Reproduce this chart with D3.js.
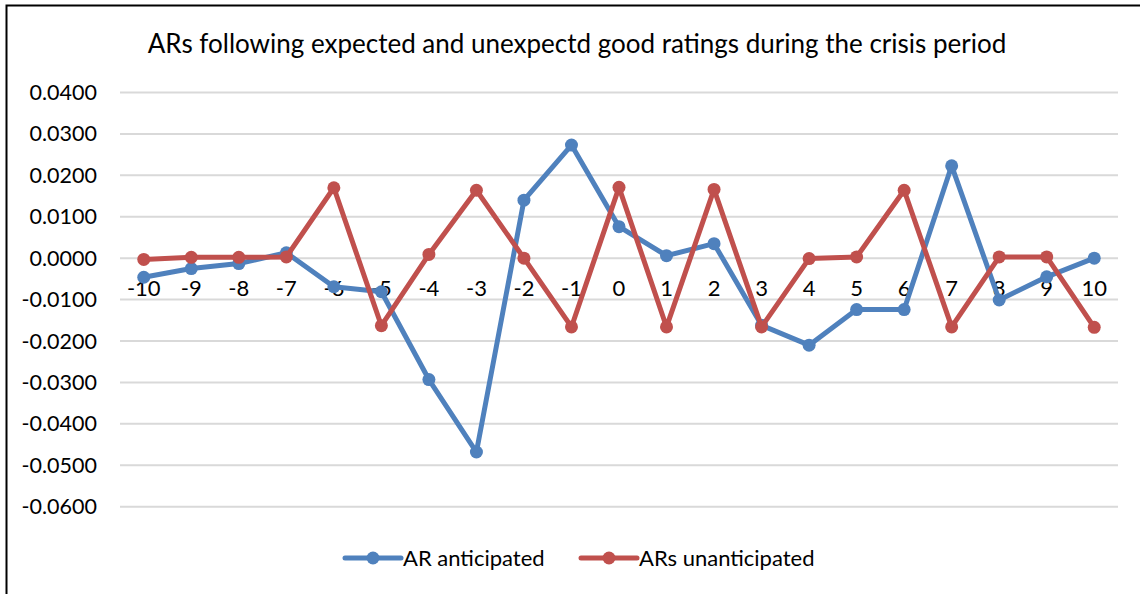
<!DOCTYPE html>
<html>
<head>
<meta charset="utf-8">
<title>ARs following expected and unexpectd good ratings</title>
<style>
    body {
        margin: 0;
        background: white;
    }
    svg {
        display: block;
        font-family: Lato, "Open Sans", sans-serif;
    }
    .grid line {
        stroke: #d9d9d9;
        stroke-width: 2px;
    }
    .tick-label {
        font-size: 21.5px;
        fill: #000;
    }
    .title {
        font-size: 26px;
        fill: #000;
    }
    .legend text {
        font-size: 22px;
        fill: #000;
    }
</style>
</head>
<body>
<svg id="chart" width="1140" height="594"></svg>
<script src="https://d3js.org/d3.v7.min.js"></script>
<script>
    // event days around the rating announcement
    var days = ["-10", "-9", "-8", "-7", "-6", "-5", "-4", "-3", "-2", "-1", "0",
                "1", "2", "3", "4", "5", "6", "7", "8", "9", "10"];

    var arAnticipated = [-0.0046, -0.0025, -0.0013, 0.0013, -0.0069, -0.0081, -0.0293, -0.0468,
                         0.0140, 0.0273, 0.0076, 0.0006, 0.0035, -0.0162, -0.0210, -0.0124,
                         -0.0124, 0.0223, -0.0101, -0.0045, 0.0000];

    var arUnanticipated = [-0.0003, 0.0002, 0.0002, 0.0003, 0.0170, -0.0163, 0.0009, 0.0164,
                           0.0000, -0.0166, 0.0171, -0.0166, 0.0166, -0.0166, -0.0001, 0.0003,
                           0.0164, -0.0166, 0.0003, 0.0003, -0.0167];

    var yTicks = [0.04, 0.03, 0.02, 0.01, 0, -0.01, -0.02, -0.03, -0.04, -0.05, -0.06];

    var seriesNames = ["AR anticipated", "ARs unanticipated"];
    var seriesColors = ["#4f81bd", "#c0504d"];

    var svg = d3.select("#chart");

    // chart frame (right/bottom edges fall outside the picture)
    svg.append("rect")
        .attr("x", 6.5)
        .attr("y", 5.5)
        .attr("width", 1160)
        .attr("height", 620)
        .attr("fill", "white")
        .attr("stroke", "#000")
        .attr("stroke-width", 2);

    var x = d3.scalePoint()
        .domain(days)
        .range([120, 1118])
        .padding(0.5);

    var y = d3.scaleLinear()
        .domain([-0.06, 0.04])
        .range([506.7, 92.5]);

    // excel style: plain hyphen for negatives
    var fmt = function(d) { return d3.format(".4f")(d).replace("\u2212", "-"); };

    svg.append("text")
        .attr("class", "title")
        .attr("x", 577)
        .attr("y", 53)
        .attr("text-anchor", "middle")
        .text("ARs following expected and unexpectd good ratings during the crisis period");

    // horizontal gridlines
    svg.append("g")
        .attr("class", "grid")
        .selectAll("line")
        .data(yTicks)
        .enter().append("line")
        .attr("x1", 120)
        .attr("x2", 1118)
        .attr("y1", function(d) { return y(d); })
        .attr("y2", function(d) { return y(d); });

    // y axis labels
    svg.append("g")
        .selectAll("text")
        .data(yTicks)
        .enter().append("text")
        .attr("class", "tick-label")
        .attr("x", 97)
        .attr("y", function(d) { return y(d); })
        .attr("dy", "0.35em")
        .attr("text-anchor", "end")
        .text(fmt);

    // category labels sit just below the zero line
    svg.append("g")
        .selectAll("text")
        .data(days)
        .enter().append("text")
        .attr("class", "tick-label")
        .attr("x", function(d) { return x(d); })
        .attr("y", y(0) + 38)
        .attr("text-anchor", "middle")
        .style("font-size", "22px")
        .text(function(d) { return d; });

    var line = d3.line()
        .x(function(d, i) { return x(days[i]); })
        .y(function(d) { return y(d); });

    [arAnticipated, arUnanticipated].forEach(function(values, k) {
        var g = svg.append("g");
        g.append("path")
            .datum(values)
            .attr("d", line)
            .attr("fill", "none")
            .attr("stroke", seriesColors[k])
            .attr("stroke-width", 5)
            .attr("stroke-linejoin", "round")
            .attr("stroke-linecap", "round");
        g.selectAll("circle")
            .data(values)
            .enter().append("circle")
            .attr("cx", function(d, i) { return x(days[i]); })
            .attr("cy", function(d) { return y(d); })
            .attr("r", 6.5)
            .attr("fill", seriesColors[k]);
    });

    // legend
    var legendX = [345, 581];
    var legend = svg.append("g")
        .attr("class", "legend")
        .selectAll("g")
        .data(seriesNames)
        .enter().append("g")
        .attr("transform", function(d, i) { return "translate(" + legendX[i] + ",558)"; });

    legend.append("line")
        .attr("x1", 0)
        .attr("x2", 56)
        .attr("stroke", function(d, i) { return seriesColors[i]; })
        .attr("stroke-width", 5)
        .attr("stroke-linecap", "round");

    legend.append("circle")
        .attr("cx", 28)
        .attr("r", 6.5)
        .attr("fill", function(d, i) { return seriesColors[i]; });

    legend.append("text")
        .attr("x", 58)
        .attr("dy", "0.35em")
        .text(function(d) { return d; });
</script>
</body>
</html>
